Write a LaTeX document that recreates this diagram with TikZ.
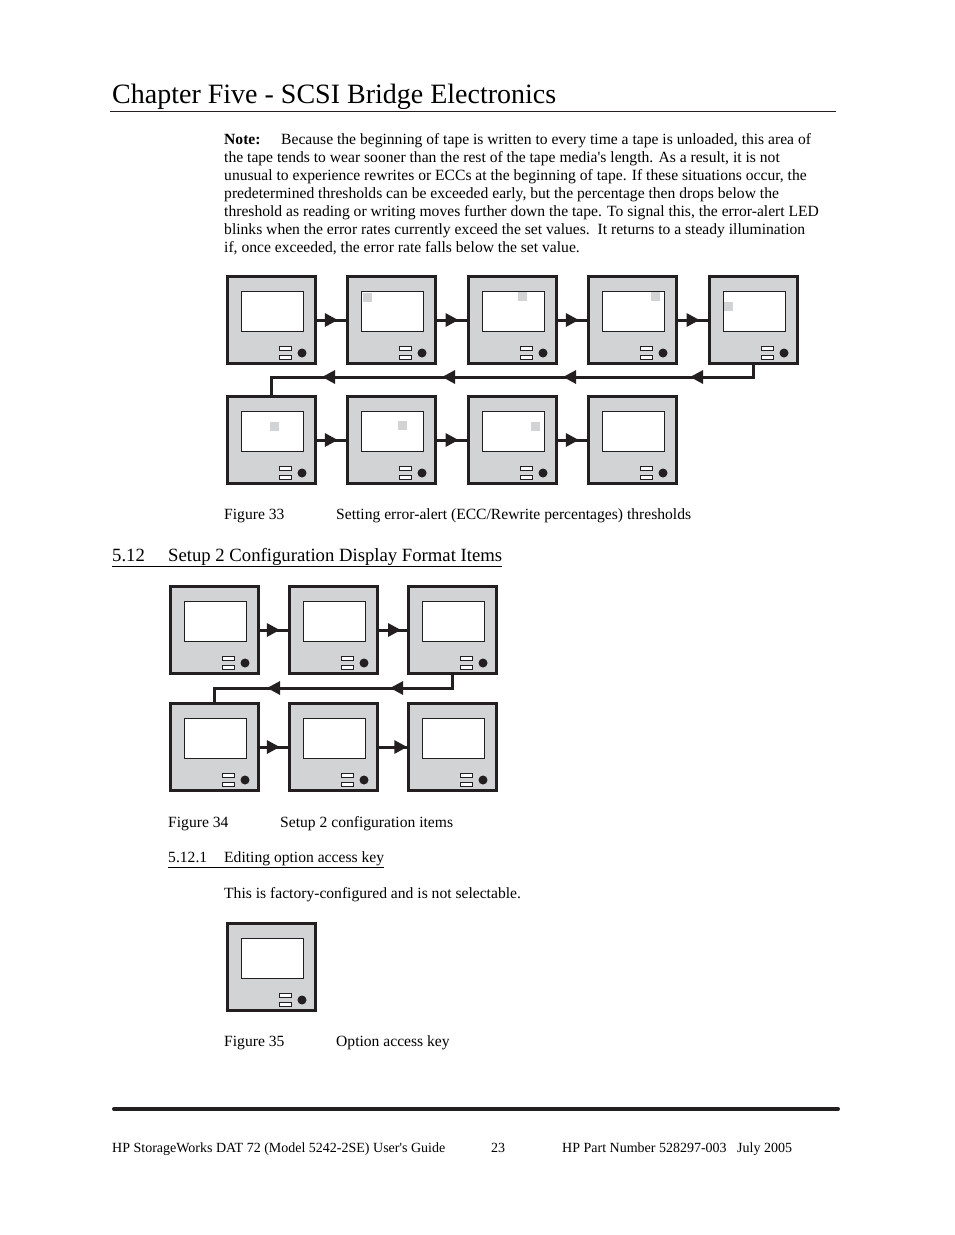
\documentclass[tikz,border=0pt]{standalone}
\usepackage{fontspec}
\setmainfont{Liberation Serif}
\usetikzlibrary{arrows.meta,decorations.markings}
\definecolor{panelgray}{RGB}{209,211,212}
\definecolor{ink}{RGB}{35,31,32}
\tikzset{
  devbox/.style={draw=ink, fill=panelgray, line width=3pt, minimum width=88pt, minimum height=87pt, inner sep=0pt, outer sep=0pt},
  thinpart/.style={draw=ink, fill=white, line width=1pt},
  link/.style={draw=ink, line width=3pt},
  midtip/.style={postaction={decorate}, decoration={markings, mark=at position #1 with {\arrow[ink]{Triangle[length=13pt,width=13pt]}}}},
  body/.style={font=\fontsize{15.6}{18}\selectfont, inner sep=0pt, anchor=base west, text=black},
  foot/.style={font=\fontsize{14}{16}\selectfont, inner sep=0pt, anchor=base west, text=black},
  blip/.style={fill=panelgray},
}
\newcommand\devpanel[3]{%
  \node[devbox] (#1) at (#2+45.5,#3+45) {};
  \begin{scope}[shift={(#2,#3)}]
    \draw[thinpart] (15,16) rectangle (77,56);
    \draw[thinpart] (53,71) rectangle (65,75);
    \draw[thinpart] (53,80) rectangle (65,84);
    \fill[ink] (76,78) circle[radius=4.5];
  \end{scope}}
\begin{document}
\begin{tikzpicture}[x=1pt,y=-1pt]
\useasboundingbox (0,0) rectangle (954,1235);
\fill[white] (0,0) rectangle (954,1235);

% title
\node[anchor=base west, inner sep=0pt, font=\fontsize{28}{30}\selectfont] (title) at (112,103) {Chapter Five - SCSI Bridge Electronics};
\draw[ink, line width=1pt] (110,111) -- (836,111);

% note
\node[body] (n0) at (224,144) {\textbf{Note:}};
\node[body] (n1) at (281,144) {Because the beginning of tape is written to every time a tape is unloaded, this area of};
\node[body] (n2) at (224,162) {the tape tends to wear sooner than the rest of the tape media\textquotesingle s length. As a result, it is not};
\node[body] (n3) at (224,180) {unusual to experience rewrites or ECCs at the beginning of tape. If these situations occur, the};
\node[body] (n4) at (224,198) {predetermined thresholds can be exceeded early, but the percentage then drops below the};
\node[body] (n5) at (224,216) {threshold as reading or writing moves further down the tape. To signal this, the error-alert LED};
\node[body] (n6) at (224,234) {blinks when the error rates currently exceed the set values.\ \ It returns to a steady illumination};
\node[body] (n7) at (224,252) {if, once exceeded, the error rate falls below the set value.};

% figure 33
\devpanel{a1}{226}{275}
\devpanel{a2}{346}{275}
\devpanel{a3}{467}{275}
\devpanel{a4}{587}{275}
\devpanel{a5}{708}{275}
\devpanel{a6}{226}{395}
\devpanel{a7}{346}{395}
\devpanel{a8}{467}{395}
\devpanel{a9}{587}{395}
\fill[blip] (363,293) rectangle ++(9,9);
\fill[blip] (518,292) rectangle ++(9,9);
\fill[blip] (651,292) rectangle ++(9,9);
\fill[blip] (724,302) rectangle ++(9,9);
\fill[blip] (270,422) rectangle ++(9,9);
\fill[blip] (398,421) rectangle ++(9,9);
\fill[blip] (531,422) rectangle ++(9,9);

\draw[link, midtip=0.7] (a1.east) -- (a2.west);
\draw[link, midtip=0.7] (a2.east) -- (a3.west);
\draw[link, midtip=0.7] (a3.east) -- (a4.west);
\draw[link, midtip=0.7] (a4.east) -- (a5.west);
\draw[link, midtip=0.7] (a6.east) -- (a7.west);
\draw[link, midtip=0.7] (a7.east) -- (a8.west);
\draw[link, midtip=0.7] (a8.east) -- (a9.west);
\coordinate (ra) at (0,377);
\draw[link, postaction={decorate}, decoration={markings,
    mark=at position 77pt with {\arrow[ink]{Triangle[length=13pt,width=13pt]}},
    mark=at position 204pt with {\arrow[ink]{Triangle[length=13pt,width=13pt]}},
    mark=at position 325pt with {\arrow[ink]{Triangle[length=13pt,width=13pt]}},
    mark=at position 445pt with {\arrow[ink]{Triangle[length=13pt,width=13pt]}}}]
  (a5.south) -- (a5.south |- ra) -| (a6.north);

\node[body] (c33a) at (224,519) {Figure 33};
\node[body] (c33b) at (336,519) {Setting error-alert (ECC/Rewrite percentages) thresholds};

% section heading
\node[anchor=base west, inner sep=0pt, font=\fontsize{18.7}{20}\selectfont] (h512) at (112,561) {\underline{\makebox[56pt][l]{5.12}Setup 2 Configuration Display Format Items}};

% figure 34
\devpanel{b1}{169}{585}
\devpanel{b2}{288}{585}
\devpanel{b3}{407}{585}
\devpanel{b4}{169}{702}
\devpanel{b5}{288}{702}
\devpanel{b6}{407}{702}
\draw[link, midtip=0.69] (b1.east) -- (b2.west);
\draw[link, midtip=0.76] (b2.east) -- (b3.west);
\draw[link, midtip=0.69] (b4.east) -- (b5.west);
\draw[link, midtip=0.96] (b5.east) -- (b6.west);
\coordinate (rb) at (0,688);
\draw[link, postaction={decorate}, decoration={markings,
    mark=at position 77pt with {\arrow[ink]{Triangle[length=13pt,width=13pt]}},
    mark=at position 200pt with {\arrow[ink]{Triangle[length=13pt,width=13pt]}}}]
  (b3.south) -- (b3.south |- rb) -| (b4.north);

\node[body] (c34a) at (168,827) {Figure 34};
\node[body] (c34b) at (280,827) {Setup 2 configuration items};

\node[body] (h5121) at (168,862) {\underline{\makebox[56pt][l]{5.12.1}Editing option access key}};
\node[body] (t1) at (224,898) {This is factory-configured and is not selectable.};

% figure 35
\devpanel{k1}{226}{922}
\node[body] (c35a) at (224,1046) {Figure 35};
\node[body] (c35b) at (336,1046) {Option access key};

% footer
\draw[ink, line width=4pt, line cap=round] (114,1109) -- (838,1109);
\node[foot] (f1) at (112,1152) {HP StorageWorks DAT 72 (Model 5242-2SE) User\textquotesingle s Guide};
\node[foot] (f2) at (491,1152) {23};
\node[foot] (f3) at (562,1152) {HP Part Number 528297-003\ \ \ July 2005};
\end{tikzpicture}
\end{document}
